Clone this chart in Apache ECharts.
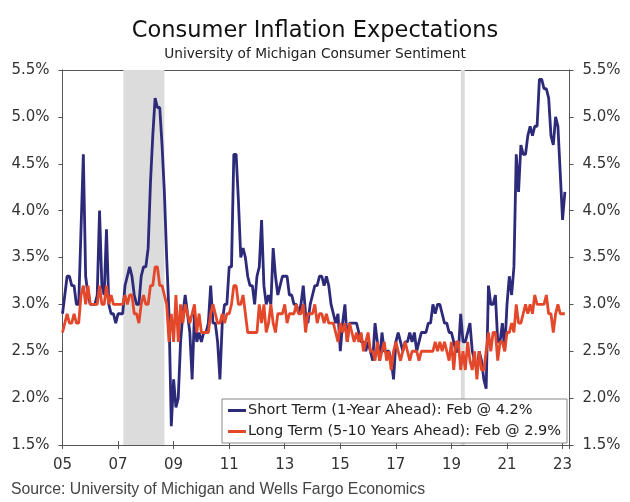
<!DOCTYPE html>
<html><head><meta charset="utf-8">
<script src="https://cdn.jsdelivr.net/npm/echarts@6/dist/echarts.min.js"></script>
<style>html,body{margin:0;padding:0;background:#fff}#c{width:630px;height:502px}</style>
</head><body><div id="c"></div>
<script>
// Monthly data, Jan 2005 .. Feb 2023
const startYear = 2005;
const shortTerm = [
2.9,3.1,3.3,3.3,3.2,3.2,3.0,3.0,3.8,4.6,3.3,3.1,
3.0,3.0,3.0,3.1,4.0,3.2,3.1,3.8,3.0,2.9,2.9,2.8,
2.9,2.9,2.9,3.2,3.3,3.4,3.3,3.1,3.0,3.0,3.3,3.4,
3.4,3.6,4.3,4.8,5.2,5.1,5.1,4.7,4.2,3.5,2.9,1.7,
2.2,1.9,2.0,2.6,2.9,3.1,2.9,2.7,2.2,2.9,2.6,2.7,
2.6,2.7,2.7,2.8,3.2,2.8,2.8,2.6,2.2,2.8,3.0,3.0,
3.4,3.4,4.6,4.6,4.1,3.5,3.6,3.5,3.3,3.2,3.2,3.0,
3.3,3.4,3.9,3.2,3.0,3.1,3.0,3.6,3.3,3.1,3.2,3.3,
3.3,3.3,3.1,3.1,3.0,3.0,2.9,3.0,3.2,2.9,2.8,3.0,
3.1,3.2,3.2,3.3,3.3,3.2,3.3,3.2,3.0,2.9,2.8,2.9,
2.5,2.8,3.0,2.6,2.8,2.8,2.8,2.8,2.7,2.6,2.6,2.5,
2.6,2.5,2.4,2.8,2.6,2.4,2.7,2.5,2.5,2.5,2.4,2.2,
2.6,2.7,2.6,2.5,2.6,2.6,2.7,2.6,2.7,2.5,2.6,2.7,
2.7,2.7,2.8,2.8,3.0,2.9,3.0,3.0,2.9,2.8,2.8,2.7,
2.7,2.6,2.5,2.5,2.9,2.6,2.6,2.7,2.8,2.5,2.4,2.3,
2.5,2.4,2.2,2.1,3.2,3.0,3.0,3.1,2.6,2.6,2.8,2.5,
3.0,3.3,3.1,3.4,4.6,4.2,4.7,4.6,4.6,4.8,4.9,4.8,
4.9,4.9,5.4,5.4,5.3,5.3,5.2,4.8,4.7,5.0,4.9,4.4,
3.9,4.2];
const longTerm = [
2.7,2.8,2.9,2.8,2.8,2.9,2.8,2.8,3.1,3.2,3.0,3.2,
3.0,3.0,3.0,3.0,3.2,3.0,3.0,3.2,3.0,3.1,3.0,3.0,
3.0,3.0,3.0,3.1,3.0,3.1,3.1,2.9,2.9,2.8,3.0,3.1,
3.0,3.0,3.2,3.2,3.4,3.4,3.2,3.2,3.1,3.0,2.6,2.9,
2.6,3.1,2.6,3.0,2.8,3.0,2.9,2.8,2.9,3.0,2.7,2.9,
2.7,2.7,2.7,2.7,2.9,3.0,2.9,2.8,2.8,2.9,2.8,2.9,
2.9,3.0,3.2,3.2,3.0,3.0,3.1,2.9,2.7,2.7,2.7,2.7,
2.7,3.0,2.8,3.0,2.7,2.8,3.0,2.8,2.7,2.9,2.9,2.9,
3.0,2.8,2.9,2.9,2.9,3.0,2.9,2.9,3.0,2.7,2.9,2.9,
2.9,3.0,2.8,2.9,2.9,2.8,2.9,2.8,2.8,2.8,2.7,2.6,
2.8,2.7,2.8,2.6,2.8,2.7,2.6,2.7,2.6,2.7,2.5,2.6,
2.7,2.5,2.5,2.4,2.6,2.4,2.5,2.6,2.4,2.5,2.3,2.5,
2.6,2.5,2.4,2.5,2.6,2.5,2.4,2.5,2.5,2.5,2.4,2.5,
2.5,2.5,2.5,2.5,2.5,2.6,2.5,2.6,2.5,2.6,2.5,2.4,
2.6,2.3,2.6,2.6,2.3,2.5,2.3,2.6,2.4,2.3,2.5,2.2,
2.5,2.3,2.3,2.5,2.7,2.5,2.7,2.7,2.4,2.6,2.6,2.5,
2.7,2.7,2.8,2.7,3.0,2.8,2.8,2.9,3.0,2.9,3.0,2.9,
3.1,3.0,3.0,3.0,3.0,3.1,2.9,2.9,2.7,2.9,3.0,2.9,
2.9,2.9];
const recessions = [[2007.19, 2008.67], [2019.34, 2019.48]];
const yTicks = {min: 1.5, max: 5.5, step: 0.5};
const xRange = {min: 2005, max: 2023.25, step: 2};
const names = ['Short Term (1-Year Ahead): Feb @ 4.2%', 'Long Term (5-10 Years Ahead): Feb @ 2.9%'];

const toPairs = arr => arr.map((v, i) => [startYear + i / 12, v]);
const AX = '#555';
const FONT = 'DejaVu Sans';
const yAxisBase = {
  type: 'value', min: yTicks.min, max: yTicks.max, interval: yTicks.step,
  splitLine: {show: false},
  axisLine: {show: true, lineStyle: {color: AX, width: 1}},
  axisTick: {show: true, length: 4, lineStyle: {color: AX}},
  axisLabel: {fontFamily: FONT, fontSize: 15, color: '#333', margin: 13,
    formatter: v => v.toFixed(1) + '%'}
};
const chart = echarts.init(document.getElementById('c'));
chart.setOption({
  animation: false,
  backgroundColor: '#fff',
  title: [
    {text: 'Consumer Inflation Expectations', left: 'center', top: 15,
     textStyle: {fontFamily: FONT, fontSize: 22.5, fontWeight: 'normal', color: '#111'}},
    {text: 'University of Michigan Consumer Sentiment', left: 'center', top: 42,
     textStyle: {fontFamily: FONT, fontSize: 13.7, fontWeight: 'normal', color: '#222'}},
    {text: 'Source: University of Michigan and Wells Fargo Economics', left: 6, top: 477,
     textStyle: {fontFamily: 'Liberation Sans', fontSize: 15.8, fontWeight: 'normal', color: '#444'}}
  ],
  grid: {left: 62.5, right: 60.5, top: 70, bottom: 57, containLabel: false},
  legend: {
    orient: 'vertical', left: 222, top: 399, padding: [4, 6, 4, 6], itemGap: 6,
    borderColor: '#888', borderWidth: 1, backgroundColor: '#fff',
    itemWidth: 18, itemHeight: 3, icon: 'rect',
    textStyle: {fontFamily: FONT, fontSize: 14.5, color: '#222', padding: [0, 0, 0, -3]},
    data: names
  },
  xAxis: [
    {type: 'value', min: xRange.min, max: xRange.max, interval: xRange.step, position: 'bottom',
     splitLine: {show: false},
     axisLine: {show: true, onZero: false, lineStyle: {color: AX}},
     axisTick: {show: true, length: 4, lineStyle: {color: AX}},
     axisLabel: {fontFamily: FONT, fontSize: 15, color: '#333', margin: 13,
       formatter: v => Number.isInteger(v) ? String(v % 100).padStart(2, '0') : ''}},
    {type: 'value', min: xRange.min, max: xRange.max, interval: xRange.step, position: 'bottom',
     splitLine: {show: false}, axisLine: {show: false},
     axisTick: {show: true, inside: true, length: 4, lineStyle: {color: AX}},
     axisLabel: {show: false}},
    {type: 'value', min: xRange.min, max: xRange.max, position: 'top',
     splitLine: {show: false}, axisLine: {show: true, onZero: false, lineStyle: {color: AX}},
     axisTick: {show: false}, axisLabel: {show: false}}
  ],
  yAxis: [
    Object.assign({}, yAxisBase, {position: 'left'}),
    Object.assign({}, yAxisBase, {position: 'right'})
  ],
  series: [
    {type: 'line', name: 'recession', data: [], silent: true, z: 1,
     markArea: {silent: true, itemStyle: {color: '#dcdcdc'},
       data: recessions.map(r => [{xAxis: r[0]}, {xAxis: r[1]}])}},
    {type: 'line', name: names[0], data: toPairs(shortTerm), showSymbol: false, z: 3,
     lineStyle: {color: '#2d2a7a', width: 2.8}, itemStyle: {color: '#2d2a7a'}},
    {type: 'line', name: names[1], data: toPairs(longTerm), showSymbol: false, z: 4,
     lineStyle: {color: '#e4482b', width: 2.8}, itemStyle: {color: '#e4482b'}}
  ]
});
</script></body></html>
